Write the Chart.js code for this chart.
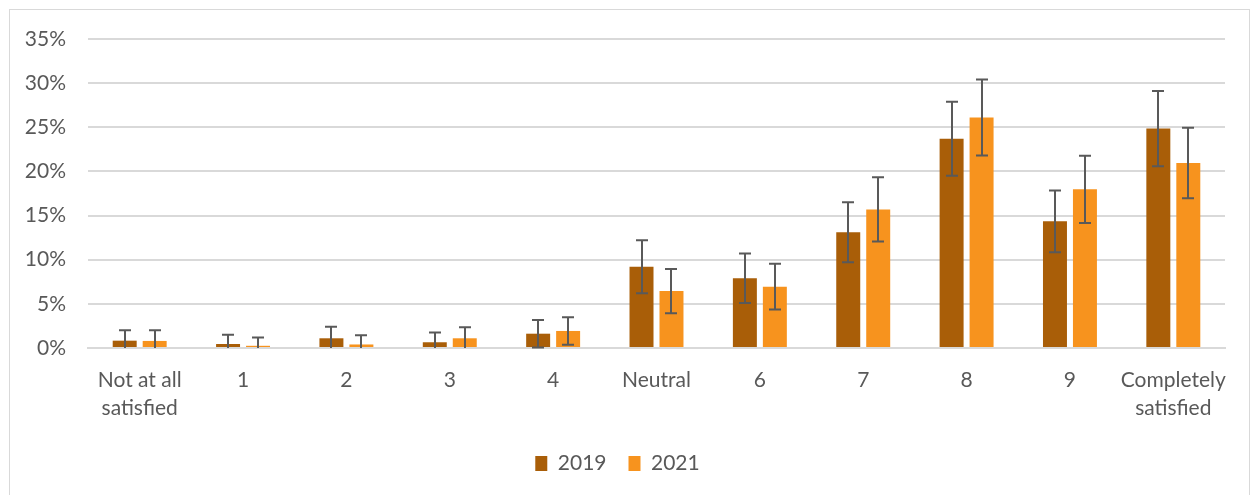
<!DOCTYPE html>
<html>
<head>
<meta charset="utf-8">
<script src="https://cdn.jsdelivr.net/npm/chart.js@4"></script>
<style>
  html, body { margin: 0; padding: 0; background: #fff; }
  #wrap { position: relative; width: 1252px; height: 495px; }
</style>
</head>
<body>
<div id="wrap"><canvas id="satChart"></canvas></div>
<script>
const categories = [['Not at all', 'satisfied'], '1', '2', '3', '4', 'Neutral', '6', '7', '8', '9', ['Completely', 'satisfied']];
const values2019 = [0.83, 0.45, 1.1, 0.65, 1.62, 9.2, 7.9, 13.1, 23.7, 14.35, 24.85];
const values2021 = [0.8, 0.25, 0.4, 1.1, 1.93, 6.45, 6.95, 15.7, 26.1, 17.97, 20.95];
const errors2019 = [1.17, 1.05, 1.3, 1.1, 1.55, 3.0, 2.8, 3.4, 4.2, 3.5, 4.25];
const errors2021 = [1.2, 0.95, 1.05, 1.25, 1.55, 2.5, 2.6, 3.65, 4.3, 3.8, 4.0];
const yTicks = [0, 5, 10, 15, 20, 25, 30, 35];

const textColor = '#595959';

// whiskers drawn over the bars, clipped at zero like the original
const errorBars = {
  id: 'errorBars',
  afterDatasetsDraw(chart) {
    const ctx = chart.ctx;
    const y = chart.scales.y;
    const errs = [errors2019, errors2021];
    ctx.save();
    ctx.strokeStyle = '#595959';
    ctx.lineWidth = 2;
    chart.data.datasets.forEach((ds, di) => {
      const meta = chart.getDatasetMeta(di);
      meta.data.forEach((bar, i) => {
        const v = ds.data[i];
        const e = errs[di][i];
        const top = y.getPixelForValue(v + e);
        const low = Math.max(0, v - e);
        const bot = y.getPixelForValue(low);
        const x = Math.round(bar.x);
        ctx.beginPath();
        ctx.moveTo(x, top);
        ctx.lineTo(x, bot);
        ctx.moveTo(x - 6, top);
        ctx.lineTo(x + 6, top);
        if (low > 0) {
          ctx.moveTo(x - 6, bot);
          ctx.lineTo(x + 6, bot);
        }
        ctx.stroke();
      });
    });
    ctx.restore();
  }
};

const frame = {
  id: 'frame',
  beforeDraw(chart) {
    const ctx = chart.ctx;
    ctx.save();
    ctx.fillStyle = '#fff';
    ctx.fillRect(0, 0, chart.width, chart.height);
    ctx.strokeStyle = '#D9D9D9';
    ctx.lineWidth = 1;
    ctx.strokeRect(9.5, 9.5, 1240, 520);
    ctx.restore();
  }
};

new Chart(document.getElementById('satChart'), {
  type: 'bar',
  data: {
    labels: categories,
    datasets: [
      { label: '2019', data: values2019, backgroundColor: '#A95E08' },
      { label: '2021', data: values2021, backgroundColor: '#F7931E' }
    ]
  },
  options: {
    responsive: true,
    maintainAspectRatio: false,
    animation: false,
    categoryPercentage: 0.58,
    barPercentage: 0.8,
    layout: { padding: { left: 10, right: 27, top: 39, bottom: 11 } },
    plugins: {
      legend: {
        position: 'bottom',
        labels: {
          color: textColor,
          font: { family: 'Lato', size: 21 },
          boxWidth: 12,
          boxHeight: 15,
          padding: 22
        }
      },
      tooltip: { enabled: false }
    },
    scales: {
      x: {
        afterFit(scale) { scale.height = 83; },
        grid: { display: false },
        border: { color: '#D9D9D9', width: 2 },
        ticks: {
          color: textColor,
          font: { family: 'Lato', size: 21, lineHeight: 1.33 },
          maxRotation: 0,
          autoSkip: false,
          padding: 10
        }
      },
      y: {
        min: 0,
        max: 35,
        afterFit(scale) { scale.width = 78; },
        afterBuildTicks(scale) { scale.ticks = yTicks.map(v => ({ value: v })); },
        grid: { color: '#D9D9D9', lineWidth: 2, drawTicks: false },
        border: { display: false },
        ticks: {
          color: textColor,
          font: { family: 'Lato', size: 21 },
          padding: 22,
          callback: v => v + '%'
        }
      }
    }
  },
  plugins: [frame, errorBars]
});
</script>
</body>
</html>
